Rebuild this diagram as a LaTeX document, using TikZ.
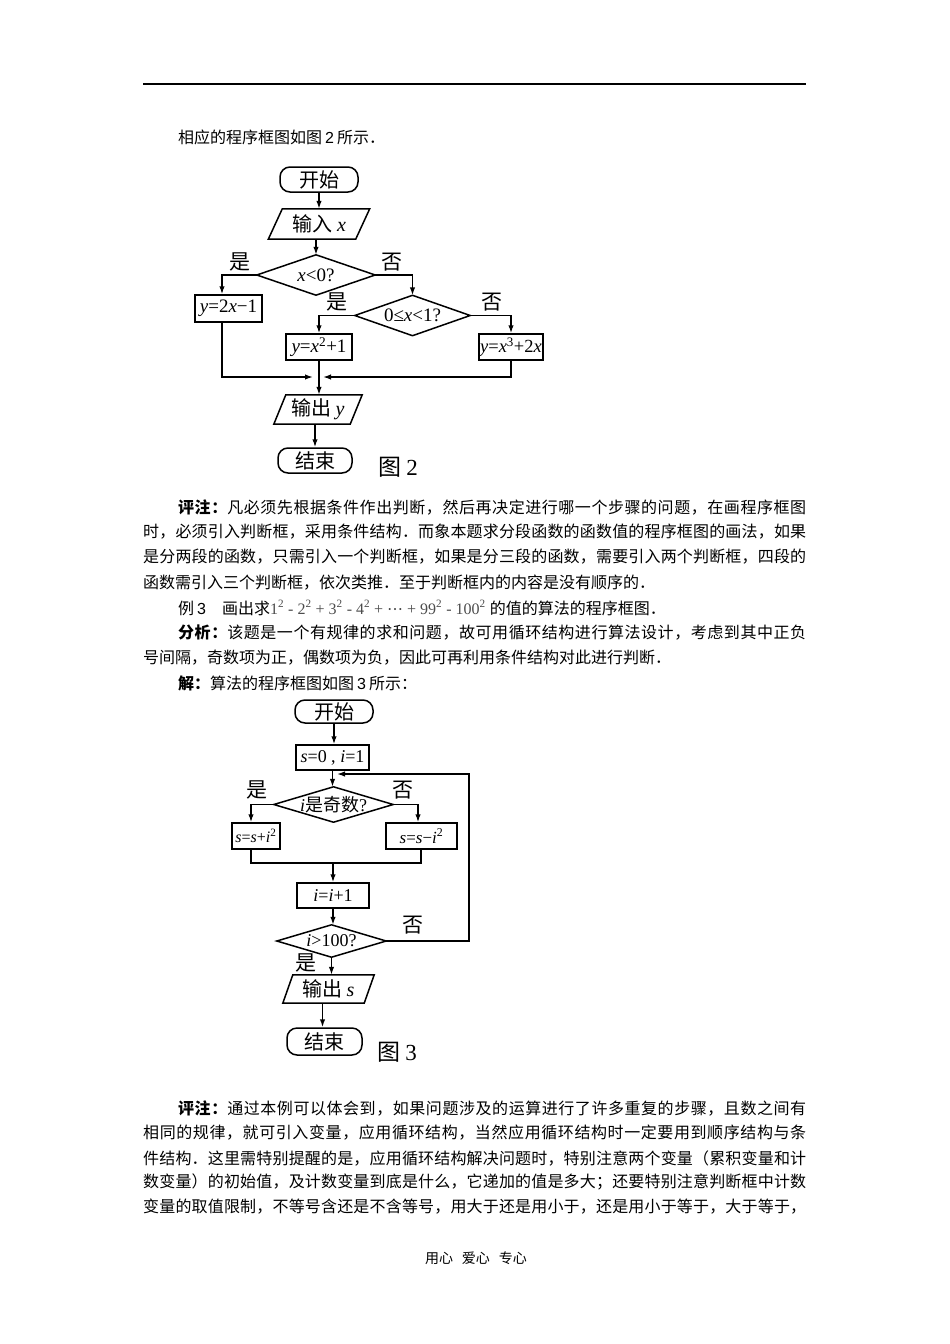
\documentclass[tikz,border=0pt]{standalone}
\usepackage{fontspec}
\setmainfont{Noto Sans CJK SC}
\newfontfamily\tms{Liberation Serif}
\newfontfamily\ars{Liberation Sans}
\newfontfamily\dvs{DejaVu Sans}
\usetikzlibrary{arrows.meta,calc}
\XeTeXinterchartokenstate=1
\newcount\tmpc
\tmpc="3000 \loop\XeTeXcharclass\tmpc=7 \advance\tmpc by 1 \ifnum\tmpc<"3040 \repeat
\tmpc="4E00 \loop\XeTeXcharclass\tmpc=7 \advance\tmpc by 1 \ifnum\tmpc<"A000 \repeat
\tmpc="FF00 \loop\XeTeXcharclass\tmpc=7 \advance\tmpc by 1 \ifnum\tmpc<"FF60 \repeat
\XeTeXinterchartoks 7 7 = {\hskip 0pt plus 1pt\relax}
\newcommand\mi[1]{{\tms\itshape #1}}
\newcommand\tmu[1]{{\tms #1}}
\begin{document}
\begin{tikzpicture}[x=1pt,y=-1pt,
  ln/.style={line width=1.5pt},
  arr/.style={line width=1.5pt,-{Latex[length=8pt,width=5.5pt]}},
  fl/.style={font=\fontsize{20}{22}\selectfont, inner sep=0pt},
  mth/.style={font=\fontsize{19}{20}\selectfont},
  term/.style={fl, draw, line width=1.5pt, rounded corners=10pt},
  proc/.style={fl, draw, line width=1.5pt},
  shp/.style={fl},
  lab/.style={font=\fontsize{21}{21}\selectfont, inner sep=0pt},
  body/.style={font=\fontsize{16}{18}\selectfont, anchor=west, inner sep=0pt},
]
\useasboundingbox[fill=white] (0,0) rectangle (950,1344);
% header rule
\coordinate (h1) at (143,84);
\coordinate (h2) at (806,84);
\draw[line width=1.2pt] (h1) -- (h2);
\node[body] (cap) at (178,137) {相应的程序框图如图\hspace{3pt}{\ars 2}\hspace{3pt}所示．};
% ---------------- Figure 2 ----------------
\node[term, minimum width=78, minimum height=25] (st2) at (319,179.5) {开始};
\node[shp, minimum width=87, minimum height=30] (in2) at (319,224) {输入\hspace{5pt}\mi{x}};
\draw[ln] ([xshift=-7]in2.south west) -- ([xshift=-7]in2.south east) -- ([xshift=7]in2.north east) -- ([xshift=7]in2.north west) -- cycle;
\node[shp, mth, minimum width=118, minimum height=40] (d1) at (316,275) {\mi{x}\tmu{<0?}};
\draw[ln] (d1.west) -- (d1.north) -- (d1.east) -- (d1.south) -- cycle;
\node[proc, mth, minimum width=67, minimum height=27] (ya) at (228.5,308.5) {\mi{y}\tmu{=2}\mi{x}\tmu{−1}};
\node[shp, mth, minimum width=115, minimum height=40] (d2) at (412.5,315.5) {\tmu{0≤}\mi{x}\tmu{<1?}};
\draw[ln] (d2.west) -- (d2.north) -- (d2.east) -- (d2.south) -- cycle;
\node[proc, mth, minimum width=66, minimum height=26] (yb) at (319,347) {\mi{y}\tmu{=}\mi{x}\textsuperscript{\tmu{2}}\tmu{+1}};
\node[proc, minimum width=64, minimum height=26, font=\fontsize{18.5}{20}\selectfont] (yc) at (511,347) {\mi{y}\tmu{=}\mi{x}\textsuperscript{\tmu{3}}\tmu{+2}\mi{x}};
\node[shp, minimum width=76, minimum height=29] (out2) at (318,409.5) {输出\hspace{4pt}\mi{y}};
\draw[ln] ([xshift=-6]out2.south west) -- ([xshift=-6]out2.south east) -- ([xshift=6]out2.north east) -- ([xshift=6]out2.north west) -- cycle;
\node[term, minimum width=74, minimum height=25] (en2) at (315,460.5) {结束};
\node[lab, font=\fontsize{23}{23}\selectfont] (f2) at (398,467) {图\hspace{5pt}\tmu{2}};
\node[lab] (l1) at (240,262) {是};
\node[lab] (l2) at (392,262) {否};
\node[lab] (l3) at (337,302) {是};
\node[lab] (l4) at (492,302) {否};
\coordinate (mL) at (313,377);
\coordinate (mR) at (323,377);
\draw[arr] (st2) -- (st2 |- in2.north);
\draw[arr] (d1.north |- in2.south) -- (d1.north);
\draw[arr] (d1.west) -| ([xshift=-6.5]ya.north);
\draw[arr] (d1.east) -| (d2.north);
\draw[arr] (d2.west) -| (yb.north);
\draw[arr] (d2.east) -| (yc.north);
\draw[arr] ([xshift=-6.5]ya.south) |- (mL);
\draw[arr] (yc.south) |- (mR);
\draw[arr] (yb.south) -- (yb.south |- out2.north);
\draw[arr] (en2.north |- out2.south) -- (en2.north);
% ---------------- paragraph 1 ----------------
\node[body] (p1) at (178,507) {\hbox to 628pt{{\bfseries 评注：}凡必须先根据条件作出判断，然后再决定进行哪一个步骤的问题，在画程序框图}};
\node[body] (p2) at (143,532) {\hbox to 663pt{时，必须引入判断框，采用条件结构．而象本题求分段函数的函数值的程序框图的画法，如果}};
\node[body] (p3) at (143,557) {\hbox to 663pt{是分两段的函数，只需引入一个判断框，如果是分三段的函数，需要引入两个判断框，四段的}};
\node[body] (p4) at (143,583) {函数需引入三个判断框，依次类推．至于判断框内的内容是没有顺序的．};
\node[body] (p5) at (178,608) {例\hspace{3pt}{\ars 3}\hspace{16pt}画出求{\color{black!70}\tms 1\textsuperscript{2} - 2\textsuperscript{2} + 3\textsuperscript{2} - 4\textsuperscript{2} + {\dvs ⋯} + 99\textsuperscript{2} - 100\textsuperscript{2}}\hspace{4pt}的值的算法的程序框图．};
\node[body] (p6) at (178,633) {\hbox to 628pt{{\bfseries 分析：}该题是一个有规律的求和问题，故可用循环结构进行算法设计，考虑到其中正负}};
\node[body] (p7) at (143,658) {号间隔，奇数项为正，偶数项为负，因此可再利用条件结构对此进行判断．};
\node[body] (p8) at (178,683) {{\bfseries 解：}算法的程序框图如图\hspace{3pt}{\ars 3}\hspace{3pt}所示：};
% ---------------- Figure 3 ----------------
\node[term, minimum width=78, minimum height=23] (st3) at (334,711.5) {开始};
\node[proc, minimum width=73, minimum height=25, font=\fontsize{18}{19}\selectfont] (ini) at (332.5,757.5) {\mi{s}\tmu{=0 , }\mi{i}\tmu{=1}};
\node[shp, minimum width=119, minimum height=35, font=\fontsize{18}{19}\selectfont] (d3) at (333.5,804.5) {\mi{i}是奇数\tmu{?}};
\draw[ln] (d3.west) -- (d3.north) -- (d3.east) -- (d3.south) -- cycle;
\node[proc, minimum width=48, minimum height=26, font=\fontsize{16}{18}\selectfont] (sa) at (256,836) {\mi{s}\tmu{=}\mi{s}\tmu{+}\mi{i}\textsuperscript{\tmu{2}}};
\node[proc, minimum width=71, minimum height=26, font=\fontsize{17}{18}\selectfont] (sb) at (421.5,836) {\mi{s}\tmu{=}\mi{s}\tmu{−}\mi{i}\textsuperscript{\tmu{2}}};
\node[proc, minimum width=72, minimum height=25, font=\fontsize{18}{19}\selectfont] (inc) at (333,895.5) {\mi{i}\tmu{=}\mi{i}\tmu{+1}};
\node[shp, minimum width=109, minimum height=32, font=\fontsize{18}{19}\selectfont] (d4) at (331.5,941) {\mi{i}\tmu{>100?}};
\draw[ln] (d4.west) -- (d4.north) -- (d4.east) -- (d4.south) -- cycle;
\node[shp, minimum width=81, minimum height=28] (out3) at (328.5,989) {输出\hspace{4pt}\mi{s}};
\draw[ln] ([xshift=-5]out3.south west) -- ([xshift=-5]out3.south east) -- ([xshift=5]out3.north east) -- ([xshift=5]out3.north west) -- cycle;
\node[term, minimum width=75, minimum height=27] (en3) at (324.5,1041.5) {结束};
\node[lab, font=\fontsize{23}{23}\selectfont] (f3) at (397,1052) {图\hspace{5pt}\tmu{3}};
\node[lab] (m1) at (257,790) {是};
\node[lab] (m2) at (403,790) {否};
\node[lab] (m3) at (413,925) {否};
\node[lab] (m4) at (306,963) {是};
\coordinate (mg) at (333,863);
\coordinate (lt) at (469,774);
\coordinate (le) at (337,774);
\draw[arr] (st3.south) -- (st3.south |- ini.north);
\draw[arr] (ini.south) -- (ini.south |- d3.north);
\draw[arr] (d3.west) -| ([xshift=-5]sa.north);
\draw[arr] (d3.east) -| ([xshift=-3.5]sb.north);
\draw[ln] ([xshift=-5]sa.south) |- (mg) -| ([xshift=-0.5]sb.south);
\draw[arr] (mg) -- (mg |- inc.north);
\draw[arr] (inc.south) -- (inc.south |- d4.north);
\draw[arr] (d4.east) -| (lt) -- (le);
\draw[arr] (d4.south) -- (d4.south |- out3.north);
\draw[arr] ([xshift=-2]en3.north |- out3.south) -- ([xshift=-2]en3.north);
% ---------------- paragraph 2 ----------------
\node[body] (q1) at (178,1108) {\hbox to 628pt{{\bfseries 评注：}通过本例可以体会到，如果问题涉及的运算进行了许多重复的步骤，且数之间有}};
\node[body] (q2) at (143,1133) {\hbox to 663pt{相同的规律，就可引入变量，应用循环结构，当然应用循环结构时一定要用到顺序结构与条}};
\node[body] (q3) at (143,1158) {\hbox to 663pt{件结构．这里需特别提醒的是，应用循环结构解决问题时，特别注意两个变量（累积变量和计}};
\node[body] (q4) at (143,1182) {\hbox to 663pt{数变量）的初始值，及计数变量到底是什么，它递加的值是多大；还要特别注意判断框中计数}};
\node[body] (q5) at (143,1207) {\hbox to 663pt{变量的取值限制，不等号含还是不含等号，用大于还是用小于，还是用小于等于，大于等于，}};
\node[font=\fontsize{14}{14}\selectfont, inner sep=0pt] (ft) at (476,1258) {用心\hspace{9pt}爱心\hspace{9pt}专心};
\end{tikzpicture}
\end{document}
